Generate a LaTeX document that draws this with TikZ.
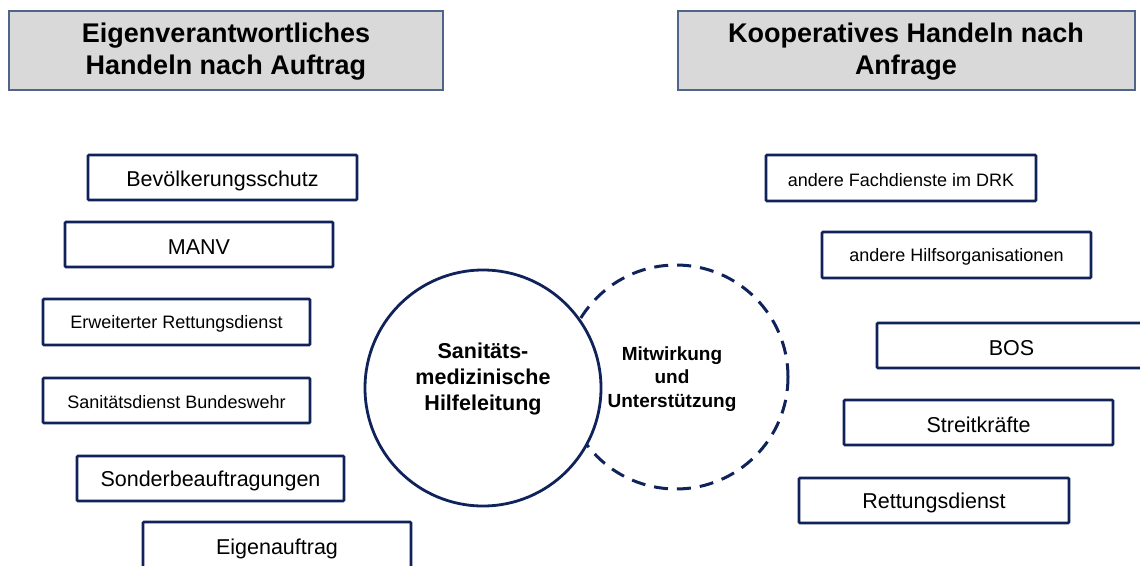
\documentclass[tikz,border=0pt]{standalone}
\usepackage{fontspec}
\setmainfont{Liberation Sans}
\definecolor{navy}{RGB}{16,34,90}
\definecolor{hdrfill}{RGB}{217,217,217}
\definecolor{hdrline}{RGB}{80,100,140}
\begin{document}
\begin{tikzpicture}[x=1pt,y=-1pt,
  hdr/.style={draw=hdrline,line width=1.2pt,fill=hdrfill},
  boxr/.style={draw=navy,line width=2.6pt,fill=white,rounded corners=1pt},
  hdrtext/.style={font=\fontsize{27}{32}\selectfont\bfseries,align=center,text=black},
  btext/.style={font=\fontsize{21.5}{25}\selectfont,text=black,yshift=-2.5pt},
  stext/.style={font=\fontsize{18}{21}\selectfont,text=black,yshift=-2pt},
]
\useasboundingbox (0,0) rectangle (1140,565);
\begin{scope}
\clip (0,0) rectangle (1140,565);
% headers
\draw[hdr] (9,11) rectangle (443,90);
\node[hdrtext] (hl) at (226,52) {Eigenverantwortliches\\Handeln nach Auftrag};
\draw[hdr] (678,11) rectangle (1135,90);
\node[hdrtext] (hr) at (906,52) {Kooperatives Handeln nach\\Anfrage};
% left boxes
\draw[boxr] (88,155) rectangle (357,200);
\node[btext] (b1) at (222.5,178) {Bevölkerungsschutz};
\draw[boxr] (65,222) rectangle (333,267);
\node[btext] (b2) at (199,245) {MANV};
\draw[boxr] (43,299) rectangle (310,345);
\node[stext] (b3) at (176.5,322) {Erweiterter Rettungsdienst};
\draw[boxr] (43,378) rectangle (310,423);
\node[stext] (b4) at (176.5,400.5) {Sanitätsdienst Bundeswehr};
\draw[boxr] (77,456) rectangle (344,501);
\node[btext] (b5) at (210.5,478.5) {Sonderbeauftragungen};
\draw[boxr] (143,522) rectangle (411,568);
\node[btext] (b6) at (277,546) {Eigenauftrag};
% right boxes
\draw[boxr] (766,155) rectangle (1036,201);
\node[stext] (r1) at (901,178) {andere Fachdienste im DRK};
\draw[boxr] (822,232) rectangle (1091,278);
\node[stext] (r2) at (956.5,255) {andere Hilfsorganisationen};
\draw[boxr] (877,323) rectangle (1146,368);
\node[btext] (r3) at (1011.5,345.5) {BOS};
\draw[boxr] (844,400) rectangle (1113,445);
\node[btext] (r4) at (978.5,422.5) {Streitkräfte};
\draw[boxr] (799,478) rectangle (1069,523);
\node[btext] (r5) at (934,500.5) {Rettungsdienst};
% circles
\draw[navy,line width=3pt,dash pattern=on 14pt off 9pt] (676,377) circle (112);
\draw[navy,line width=2.8pt,fill=white] (483,388) circle (118);
\node[font=\fontsize{21.5}{26}\selectfont\bfseries,align=center] (c1) at (483,379) {Sanitäts-\\medizinische\\Hilfeleitung};
\node[font=\fontsize{19}{23.5}\selectfont\bfseries,align=center] (c2) at (672,379) {Mitwirkung\\und\\Unterstützung};
\end{scope}
\end{tikzpicture}
\end{document}
